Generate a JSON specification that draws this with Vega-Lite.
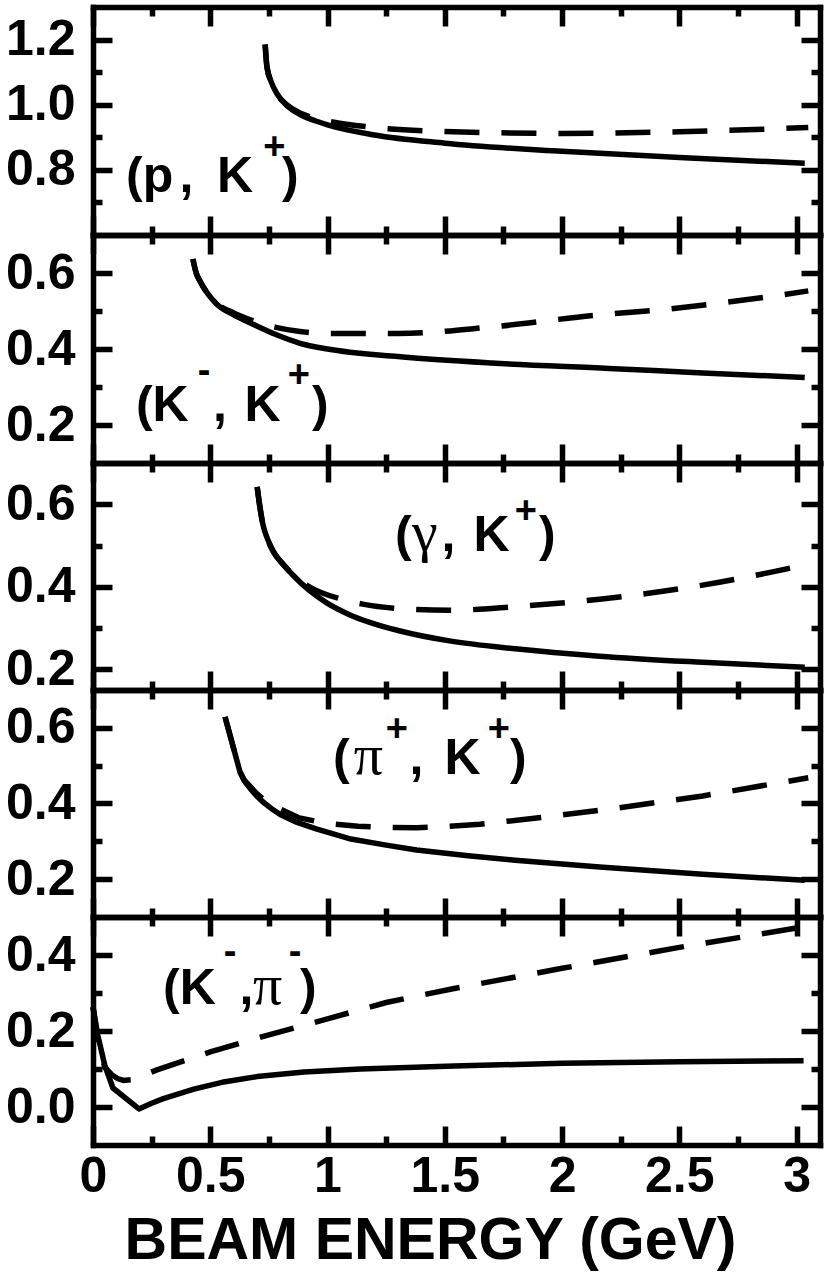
{
  "$schema": "https://vega.github.io/schema/vega-lite/v6.json",
  "background": "white",
  "padding": {"left": 5, "top": 4, "right": 5, "bottom": 2},
  "spacing": 0,
  "bounds": "flush",
  "config": {
    "view": {"stroke": null},
    "axis": {
      "grid": false,
      "domainColor": "black",
      "domainWidth": 5.5,
      "domainCap": "square",
      "tickColor": "black",
      "tickWidth": 5.5,
      "labelFont": "Liberation Sans",
      "labelFontWeight": "bold",
      "labelFontSize": 50,
      "labelColor": "black",
      "labelFlush": false,
      "labelOverlap": false,
      "labelBound": false
    }
  },
  "datasets": {
    "curves": [
      {"p": 1, "s": "solid", "e": 0.734, "v": 1.185},
      {"p": 1, "s": "solid", "e": 0.742, "v": 1.115},
      {"p": 1, "s": "solid", "e": 0.76, "v": 1.07},
      {"p": 1, "s": "solid", "e": 0.785, "v": 1.033},
      {"p": 1, "s": "solid", "e": 0.83, "v": 0.995},
      {"p": 1, "s": "solid", "e": 0.883, "v": 0.97},
      {"p": 1, "s": "solid", "e": 0.95, "v": 0.95},
      {"p": 1, "s": "solid", "e": 1.0, "v": 0.938},
      {"p": 1, "s": "solid", "e": 1.2, "v": 0.907},
      {"p": 1, "s": "solid", "e": 1.5, "v": 0.882},
      {"p": 1, "s": "solid", "e": 2.0, "v": 0.857},
      {"p": 1, "s": "solid", "e": 2.5, "v": 0.838},
      {"p": 1, "s": "solid", "e": 3.035, "v": 0.82},
      {"p": 1, "s": "dashed", "e": 0.734, "v": 1.185},
      {"p": 1, "s": "dashed", "e": 0.742, "v": 1.115},
      {"p": 1, "s": "dashed", "e": 0.76, "v": 1.07},
      {"p": 1, "s": "dashed", "e": 0.785, "v": 1.033},
      {"p": 1, "s": "dashed", "e": 0.83, "v": 0.998},
      {"p": 1, "s": "dashed", "e": 0.883, "v": 0.975},
      {"p": 1, "s": "dashed", "e": 0.95, "v": 0.958},
      {"p": 1, "s": "dashed", "e": 1.0, "v": 0.95},
      {"p": 1, "s": "dashed", "e": 1.2, "v": 0.93},
      {"p": 1, "s": "dashed", "e": 1.5, "v": 0.918},
      {"p": 1, "s": "dashed", "e": 2.0, "v": 0.912},
      {"p": 1, "s": "dashed", "e": 2.5, "v": 0.917},
      {"p": 1, "s": "dashed", "e": 3.05, "v": 0.93},

      {"p": 2, "s": "solid", "e": 0.426, "v": 0.637},
      {"p": 2, "s": "solid", "e": 0.44, "v": 0.6},
      {"p": 2, "s": "solid", "e": 0.456, "v": 0.579},
      {"p": 2, "s": "solid", "e": 0.49, "v": 0.545},
      {"p": 2, "s": "solid", "e": 0.528, "v": 0.518},
      {"p": 2, "s": "solid", "e": 0.6, "v": 0.49},
      {"p": 2, "s": "solid", "e": 0.68, "v": 0.466},
      {"p": 2, "s": "solid", "e": 0.78, "v": 0.438},
      {"p": 2, "s": "solid", "e": 0.883, "v": 0.415},
      {"p": 2, "s": "solid", "e": 1.0, "v": 0.4},
      {"p": 2, "s": "solid", "e": 1.3, "v": 0.38},
      {"p": 2, "s": "solid", "e": 1.7, "v": 0.363},
      {"p": 2, "s": "solid", "e": 2.2, "v": 0.349},
      {"p": 2, "s": "solid", "e": 2.6, "v": 0.337},
      {"p": 2, "s": "solid", "e": 3.035, "v": 0.325},
      {"p": 2, "s": "dashed", "e": 0.426, "v": 0.637},
      {"p": 2, "s": "dashed", "e": 0.44, "v": 0.6},
      {"p": 2, "s": "dashed", "e": 0.456, "v": 0.579},
      {"p": 2, "s": "dashed", "e": 0.49, "v": 0.545},
      {"p": 2, "s": "dashed", "e": 0.528, "v": 0.52},
      {"p": 2, "s": "dashed", "e": 0.6, "v": 0.495},
      {"p": 2, "s": "dashed", "e": 0.68, "v": 0.475},
      {"p": 2, "s": "dashed", "e": 0.78, "v": 0.457},
      {"p": 2, "s": "dashed", "e": 0.883, "v": 0.446},
      {"p": 2, "s": "dashed", "e": 1.0, "v": 0.441},
      {"p": 2, "s": "dashed", "e": 1.3, "v": 0.441},
      {"p": 2, "s": "dashed", "e": 1.7, "v": 0.458},
      {"p": 2, "s": "dashed", "e": 2.16, "v": 0.49},
      {"p": 2, "s": "dashed", "e": 2.42, "v": 0.503},
      {"p": 2, "s": "dashed", "e": 2.66, "v": 0.52},
      {"p": 2, "s": "dashed", "e": 2.91, "v": 0.54},
      {"p": 2, "s": "dashed", "e": 3.05, "v": 0.553},

      {"p": 3, "s": "solid", "e": 0.7, "v": 0.642},
      {"p": 3, "s": "solid", "e": 0.71, "v": 0.6},
      {"p": 3, "s": "solid", "e": 0.725, "v": 0.55},
      {"p": 3, "s": "solid", "e": 0.745, "v": 0.515},
      {"p": 3, "s": "solid", "e": 0.768, "v": 0.486},
      {"p": 3, "s": "solid", "e": 0.81, "v": 0.455},
      {"p": 3, "s": "solid", "e": 0.853, "v": 0.428},
      {"p": 3, "s": "solid", "e": 0.925, "v": 0.39},
      {"p": 3, "s": "solid", "e": 1.0, "v": 0.36},
      {"p": 3, "s": "solid", "e": 1.096, "v": 0.332},
      {"p": 3, "s": "solid", "e": 1.31, "v": 0.293},
      {"p": 3, "s": "solid", "e": 1.52, "v": 0.269},
      {"p": 3, "s": "solid", "e": 1.8, "v": 0.25},
      {"p": 3, "s": "solid", "e": 2.16, "v": 0.232},
      {"p": 3, "s": "solid", "e": 2.6, "v": 0.217},
      {"p": 3, "s": "solid", "e": 3.035, "v": 0.205},
      {"p": 3, "s": "dashed", "e": 0.7, "v": 0.642},
      {"p": 3, "s": "dashed", "e": 0.71, "v": 0.6},
      {"p": 3, "s": "dashed", "e": 0.725, "v": 0.55},
      {"p": 3, "s": "dashed", "e": 0.745, "v": 0.515},
      {"p": 3, "s": "dashed", "e": 0.768, "v": 0.486},
      {"p": 3, "s": "dashed", "e": 0.81, "v": 0.455},
      {"p": 3, "s": "dashed", "e": 0.853, "v": 0.43},
      {"p": 3, "s": "dashed", "e": 0.917, "v": 0.402},
      {"p": 3, "s": "dashed", "e": 1.06, "v": 0.37},
      {"p": 3, "s": "dashed", "e": 1.15, "v": 0.358},
      {"p": 3, "s": "dashed", "e": 1.31, "v": 0.347},
      {"p": 3, "s": "dashed", "e": 1.52, "v": 0.343},
      {"p": 3, "s": "dashed", "e": 1.8, "v": 0.352},
      {"p": 3, "s": "dashed", "e": 2.16, "v": 0.37},
      {"p": 3, "s": "dashed", "e": 2.5, "v": 0.395},
      {"p": 3, "s": "dashed", "e": 2.8, "v": 0.425},
      {"p": 3, "s": "dashed", "e": 3.05, "v": 0.455},

      {"p": 4, "s": "solid", "e": 0.563, "v": 0.629},
      {"p": 4, "s": "solid", "e": 0.627, "v": 0.483},
      {"p": 4, "s": "solid", "e": 0.645, "v": 0.46},
      {"p": 4, "s": "solid", "e": 0.67, "v": 0.44},
      {"p": 4, "s": "solid", "e": 0.695, "v": 0.422},
      {"p": 4, "s": "solid", "e": 0.725, "v": 0.404},
      {"p": 4, "s": "solid", "e": 0.76, "v": 0.387},
      {"p": 4, "s": "solid", "e": 0.8, "v": 0.37},
      {"p": 4, "s": "solid", "e": 0.87, "v": 0.35},
      {"p": 4, "s": "solid", "e": 0.955, "v": 0.332},
      {"p": 4, "s": "solid", "e": 1.1, "v": 0.306},
      {"p": 4, "s": "solid", "e": 1.25, "v": 0.29},
      {"p": 4, "s": "solid", "e": 1.38, "v": 0.277},
      {"p": 4, "s": "solid", "e": 1.6, "v": 0.262},
      {"p": 4, "s": "solid", "e": 1.8, "v": 0.25},
      {"p": 4, "s": "solid", "e": 2.16, "v": 0.232},
      {"p": 4, "s": "solid", "e": 2.6, "v": 0.213},
      {"p": 4, "s": "solid", "e": 3.035, "v": 0.197},
      {"p": 4, "s": "dashed", "e": 0.563, "v": 0.629},
      {"p": 4, "s": "dashed", "e": 0.627, "v": 0.483},
      {"p": 4, "s": "dashed", "e": 0.645, "v": 0.462},
      {"p": 4, "s": "dashed", "e": 0.67, "v": 0.445},
      {"p": 4, "s": "dashed", "e": 0.695, "v": 0.428},
      {"p": 4, "s": "dashed", "e": 0.725, "v": 0.412},
      {"p": 4, "s": "dashed", "e": 0.76, "v": 0.398},
      {"p": 4, "s": "dashed", "e": 0.8, "v": 0.385},
      {"p": 4, "s": "dashed", "e": 0.88, "v": 0.362},
      {"p": 4, "s": "dashed", "e": 1.0, "v": 0.347},
      {"p": 4, "s": "dashed", "e": 1.13, "v": 0.34},
      {"p": 4, "s": "dashed", "e": 1.25, "v": 0.337},
      {"p": 4, "s": "dashed", "e": 1.38, "v": 0.336},
      {"p": 4, "s": "dashed", "e": 1.5, "v": 0.339},
      {"p": 4, "s": "dashed", "e": 1.65, "v": 0.345},
      {"p": 4, "s": "dashed", "e": 1.91, "v": 0.363},
      {"p": 4, "s": "dashed", "e": 2.2, "v": 0.385},
      {"p": 4, "s": "dashed", "e": 2.6, "v": 0.42},
      {"p": 4, "s": "dashed", "e": 3.05, "v": 0.468},

      {"p": 5, "s": "solid", "e": 0.0, "v": 0.263},
      {"p": 5, "s": "solid", "e": 0.02, "v": 0.19},
      {"p": 5, "s": "solid", "e": 0.05, "v": 0.11},
      {"p": 5, "s": "solid", "e": 0.085, "v": 0.05},
      {"p": 5, "s": "solid", "e": 0.196, "v": -0.005},
      {"p": 5, "s": "solid", "e": 0.25, "v": 0.01},
      {"p": 5, "s": "solid", "e": 0.3, "v": 0.022},
      {"p": 5, "s": "solid", "e": 0.43, "v": 0.047},
      {"p": 5, "s": "solid", "e": 0.55, "v": 0.065},
      {"p": 5, "s": "solid", "e": 0.7, "v": 0.08},
      {"p": 5, "s": "solid", "e": 0.9, "v": 0.092},
      {"p": 5, "s": "solid", "e": 1.14, "v": 0.1},
      {"p": 5, "s": "solid", "e": 1.54, "v": 0.108},
      {"p": 5, "s": "solid", "e": 2.0, "v": 0.115},
      {"p": 5, "s": "solid", "e": 2.5, "v": 0.119},
      {"p": 5, "s": "solid", "e": 3.03, "v": 0.122},
      {"p": 5, "s": "dashed", "e": 0.0, "v": 0.263},
      {"p": 5, "s": "dashed", "e": 0.02, "v": 0.18},
      {"p": 5, "s": "dashed", "e": 0.05, "v": 0.105},
      {"p": 5, "s": "dashed", "e": 0.08, "v": 0.085},
      {"p": 5, "s": "dashed", "e": 0.105, "v": 0.075},
      {"p": 5, "s": "dashed", "e": 0.13, "v": 0.07},
      {"p": 5, "s": "dashed", "e": 0.165, "v": 0.072},
      {"p": 5, "s": "dashed", "e": 0.2, "v": 0.08},
      {"p": 5, "s": "dashed", "e": 0.27, "v": 0.097},
      {"p": 5, "s": "dashed", "e": 0.5, "v": 0.145},
      {"p": 5, "s": "dashed", "e": 0.75, "v": 0.19},
      {"p": 5, "s": "dashed", "e": 1.0, "v": 0.232},
      {"p": 5, "s": "dashed", "e": 1.25, "v": 0.275},
      {"p": 5, "s": "dashed", "e": 1.54, "v": 0.312},
      {"p": 5, "s": "dashed", "e": 2.0, "v": 0.365},
      {"p": 5, "s": "dashed", "e": 2.5, "v": 0.42},
      {"p": 5, "s": "dashed", "e": 3.05, "v": 0.476}
    ],
    "labels": [
      {"p": 1, "k": "main", "e": 0.141, "v": 0.732, "t": "(p"},
      {"p": 1, "k": "main", "e": 0.369, "v": 0.732, "t": ","},
      {"p": 1, "k": "main", "e": 0.529, "v": 0.732, "t": "K"},
      {"p": 1, "k": "sup", "e": 0.726, "v": 0.832, "t": "+"},
      {"p": 1, "k": "main", "e": 0.806, "v": 0.732, "t": ")"},

      {"p": 2, "k": "main", "e": 0.183, "v": 0.2105, "t": "(K"},
      {"p": 2, "k": "sup", "e": 0.447, "v": 0.31, "t": "-"},
      {"p": 2, "k": "main", "e": 0.512, "v": 0.2105, "t": ","},
      {"p": 2, "k": "main", "e": 0.646, "v": 0.2105, "t": "K"},
      {"p": 2, "k": "sup", "e": 0.83, "v": 0.3, "t": "+"},
      {"p": 2, "k": "main", "e": 0.934, "v": 0.2105, "t": ")"},

      {"p": 3, "k": "main", "e": 1.288, "v": 0.487, "t": "("},
      {"p": 3, "k": "greek", "e": 1.36, "v": 0.487, "t": "γ"},
      {"p": 3, "k": "main", "e": 1.486, "v": 0.487, "t": ","},
      {"p": 3, "k": "main", "e": 1.623, "v": 0.487, "t": "K"},
      {"p": 3, "k": "sup", "e": 1.798, "v": 0.555, "t": "+"},
      {"p": 3, "k": "main", "e": 1.902, "v": 0.487, "t": ")"},

      {"p": 4, "k": "main", "e": 1.023, "v": 0.478, "t": "("},
      {"p": 4, "k": "greek", "e": 1.112, "v": 0.478, "t": "π"},
      {"p": 4, "k": "sup", "e": 1.248, "v": 0.566, "t": "+"},
      {"p": 4, "k": "main", "e": 1.35, "v": 0.478, "t": ","},
      {"p": 4, "k": "main", "e": 1.499, "v": 0.478, "t": "K"},
      {"p": 4, "k": "sup", "e": 1.683, "v": 0.566, "t": "+"},
      {"p": 4, "k": "main", "e": 1.778, "v": 0.478, "t": ")"},

      {"p": 5, "k": "main", "e": 0.299, "v": 0.271, "t": "(K"},
      {"p": 5, "k": "sup", "e": 0.558, "v": 0.376, "t": "-"},
      {"p": 5, "k": "main", "e": 0.625, "v": 0.271, "t": ","},
      {"p": 5, "k": "greek", "e": 0.682, "v": 0.271, "t": "π"},
      {"p": 5, "k": "sup", "e": 0.835, "v": 0.376, "t": "-"},
      {"p": 5, "k": "main", "e": 0.883, "v": 0.271, "t": ")"}
    ]
  },
  "vconcat": [
    {
      "width": 727, "height": 228,
      "resolve": {"axis": {"x": "independent", "y": "independent"}},
      "layer": [
        {
          "data": {"name": "curves"},
          "transform": [{"filter": "datum.p == 1 && datum.s == 'solid'"}],
          "mark": {"type": "line", "color": "black", "strokeWidth": 5.5, "strokeJoin": "round", "interpolate": "monotone"},
          "encoding": {
            "x": {"field": "e", "type": "quantitative", "scale": {"domain": [0, 3.1], "nice": false, "zero": false},
              "axis": {"orient": "bottom", "values": [0, 0.25, 0.5, 0.75, 1, 1.25, 1.5, 1.75, 2, 2.25, 2.5, 2.75, 3], "labels": false, "title": null,
                "tickSize": {"condition": {"test": "datum.value % 0.5 === 0", "value": -19}, "value": -9}}},
            "y": {"field": "v", "type": "quantitative", "scale": {"domain": [0.6, 1.3], "nice": false, "zero": false},
              "axis": {"orient": "left", "values": [0.7, 0.8, 0.9, 1.0, 1.1, 1.2], "format": ".1f", "labelExpr": "round(datum.value*10) % 2 === 0 ? datum.label : ''", "labelPadding": 37, "title": null,
                "tickSize": {"condition": {"test": "round(datum.value*10) % 2 === 0", "value": -19}, "value": -9}}}
          }
        },
        {
          "data": {"name": "curves"},
          "transform": [{"filter": "datum.p == 1 && datum.s == 'dashed'"}],
          "mark": {"type": "line", "color": "black", "strokeWidth": 5.5, "strokeDash": [35, 22], "interpolate": "monotone"},
          "encoding": {
            "x": {"field": "e", "type": "quantitative",
              "axis": {"orient": "top", "values": [0, 0.25, 0.5, 0.75, 1, 1.25, 1.5, 1.75, 2, 2.25, 2.5, 2.75, 3], "labels": false, "title": null,
                "tickSize": {"condition": {"test": "datum.value % 0.5 === 0", "value": -19}, "value": -9}}},
            "y": {"field": "v", "type": "quantitative",
              "axis": {"orient": "right", "values": [0.7, 0.8, 0.9, 1.0, 1.1, 1.2], "labels": false, "title": null,
                "tickSize": {"condition": {"test": "round(datum.value*10) % 2 === 0", "value": -19}, "value": -9}}}
          }
        },
        {
          "data": {"name": "labels"},
          "transform": [{"filter": "datum.p == 1 && datum.k == 'main'"}],
          "mark": {"type": "text", "font": "Liberation Sans", "fontWeight": "bold", "fontSize": 50, "align": "left", "baseline": "alphabetic", "color": "black"},
          "encoding": {"x": {"field": "e", "type": "quantitative", "axis": null}, "y": {"field": "v", "type": "quantitative", "axis": null}, "text": {"field": "t"}}
        },
        {
          "data": {"name": "labels"},
          "transform": [{"filter": "datum.p == 1 && datum.k == 'sup'"}],
          "mark": {"type": "text", "font": "Liberation Sans", "fontWeight": "bold", "fontSize": 38, "align": "left", "baseline": "alphabetic", "color": "black"},
          "encoding": {"x": {"field": "e", "type": "quantitative", "axis": null}, "y": {"field": "v", "type": "quantitative", "axis": null}, "text": {"field": "t"}}
        }
      ]
    },
    {
      "width": 727, "height": 228,
      "resolve": {"axis": {"x": "independent", "y": "independent"}},
      "layer": [
        {
          "data": {"name": "curves"},
          "transform": [{"filter": "datum.p == 2 && datum.s == 'solid'"}],
          "mark": {"type": "line", "color": "black", "strokeWidth": 5.5, "strokeJoin": "round", "interpolate": "monotone"},
          "encoding": {
            "x": {"field": "e", "type": "quantitative", "scale": {"domain": [0, 3.1], "nice": false, "zero": false},
              "axis": {"orient": "bottom", "values": [0, 0.25, 0.5, 0.75, 1, 1.25, 1.5, 1.75, 2, 2.25, 2.5, 2.75, 3], "labels": false, "title": null,
                "tickSize": {"condition": {"test": "datum.value % 0.5 === 0", "value": -19}, "value": -9}}},
            "y": {"field": "v", "type": "quantitative", "scale": {"domain": [0.1, 0.7], "nice": false, "zero": false},
              "axis": {"orient": "left", "values": [0.2, 0.3, 0.4, 0.5, 0.6], "format": ".1f", "labelExpr": "round(datum.value*10) % 2 === 0 ? datum.label : ''", "labelPadding": 37, "title": null,
                "tickSize": {"condition": {"test": "round(datum.value*10) % 2 === 0", "value": -19}, "value": -9}}}
          }
        },
        {
          "data": {"name": "curves"},
          "transform": [{"filter": "datum.p == 2 && datum.s == 'dashed'"}],
          "mark": {"type": "line", "color": "black", "strokeWidth": 5.5, "strokeDash": [35, 22], "interpolate": "monotone"},
          "encoding": {
            "x": {"field": "e", "type": "quantitative",
              "axis": {"orient": "top", "values": [0, 0.25, 0.5, 0.75, 1, 1.25, 1.5, 1.75, 2, 2.25, 2.5, 2.75, 3], "labels": false, "title": null,
                "tickSize": {"condition": {"test": "datum.value % 0.5 === 0", "value": -19}, "value": -9}}},
            "y": {"field": "v", "type": "quantitative",
              "axis": {"orient": "right", "values": [0.2, 0.3, 0.4, 0.5, 0.6], "labels": false, "title": null,
                "tickSize": {"condition": {"test": "round(datum.value*10) % 2 === 0", "value": -19}, "value": -9}}}
          }
        },
        {
          "data": {"name": "labels"},
          "transform": [{"filter": "datum.p == 2 && datum.k == 'main'"}],
          "mark": {"type": "text", "font": "Liberation Sans", "fontWeight": "bold", "fontSize": 50, "align": "left", "baseline": "alphabetic", "color": "black"},
          "encoding": {"x": {"field": "e", "type": "quantitative", "axis": null}, "y": {"field": "v", "type": "quantitative", "axis": null}, "text": {"field": "t"}}
        },
        {
          "data": {"name": "labels"},
          "transform": [{"filter": "datum.p == 2 && datum.k == 'sup'"}],
          "mark": {"type": "text", "font": "Liberation Sans", "fontWeight": "bold", "fontSize": 38, "align": "left", "baseline": "alphabetic", "color": "black"},
          "encoding": {"x": {"field": "e", "type": "quantitative", "axis": null}, "y": {"field": "v", "type": "quantitative", "axis": null}, "text": {"field": "t"}}
        }
      ]
    },
    {
      "width": 727, "height": 227,
      "resolve": {"axis": {"x": "independent", "y": "independent"}},
      "layer": [
        {
          "data": {"name": "curves"},
          "transform": [{"filter": "datum.p == 3 && datum.s == 'solid'"}],
          "mark": {"type": "line", "color": "black", "strokeWidth": 5.5, "strokeJoin": "round", "interpolate": "monotone"},
          "encoding": {
            "x": {"field": "e", "type": "quantitative", "scale": {"domain": [0, 3.1], "nice": false, "zero": false},
              "axis": {"orient": "bottom", "values": [0, 0.25, 0.5, 0.75, 1, 1.25, 1.5, 1.75, 2, 2.25, 2.5, 2.75, 3], "labels": false, "title": null,
                "tickSize": {"condition": {"test": "datum.value % 0.5 === 0", "value": -19}, "value": -9}}},
            "y": {"field": "v", "type": "quantitative", "scale": {"domain": [0.15, 0.7], "nice": false, "zero": false},
              "axis": {"orient": "left", "values": [0.2, 0.3, 0.4, 0.5, 0.6], "format": ".1f", "labelExpr": "round(datum.value*10) % 2 === 0 ? datum.label : ''", "labelPadding": 37, "title": null,
                "tickSize": {"condition": {"test": "round(datum.value*10) % 2 === 0", "value": -19}, "value": -9}}}
          }
        },
        {
          "data": {"name": "curves"},
          "transform": [{"filter": "datum.p == 3 && datum.s == 'dashed'"}],
          "mark": {"type": "line", "color": "black", "strokeWidth": 5.5, "strokeDash": [35, 22], "interpolate": "monotone"},
          "encoding": {
            "x": {"field": "e", "type": "quantitative",
              "axis": {"orient": "top", "values": [0, 0.25, 0.5, 0.75, 1, 1.25, 1.5, 1.75, 2, 2.25, 2.5, 2.75, 3], "labels": false, "title": null,
                "tickSize": {"condition": {"test": "datum.value % 0.5 === 0", "value": -19}, "value": -9}}},
            "y": {"field": "v", "type": "quantitative",
              "axis": {"orient": "right", "values": [0.2, 0.3, 0.4, 0.5, 0.6], "labels": false, "title": null,
                "tickSize": {"condition": {"test": "round(datum.value*10) % 2 === 0", "value": -19}, "value": -9}}}
          }
        },
        {
          "data": {"name": "labels"},
          "transform": [{"filter": "datum.p == 3 && datum.k == 'main'"}],
          "mark": {"type": "text", "font": "Liberation Sans", "fontWeight": "bold", "fontSize": 50, "align": "left", "baseline": "alphabetic", "color": "black"},
          "encoding": {"x": {"field": "e", "type": "quantitative", "axis": null}, "y": {"field": "v", "type": "quantitative", "axis": null}, "text": {"field": "t"}}
        },
        {
          "data": {"name": "labels"},
          "transform": [{"filter": "datum.p == 3 && datum.k == 'sup'"}],
          "mark": {"type": "text", "font": "Liberation Sans", "fontWeight": "bold", "fontSize": 38, "align": "left", "baseline": "alphabetic", "color": "black"},
          "encoding": {"x": {"field": "e", "type": "quantitative", "axis": null}, "y": {"field": "v", "type": "quantitative", "axis": null}, "text": {"field": "t"}}
        },
        {
          "data": {"name": "labels"},
          "transform": [{"filter": "datum.p == 3 && datum.k == 'greek'"}],
          "mark": {"type": "text", "font": "Liberation Serif", "fontSize": 58, "align": "left", "baseline": "alphabetic", "color": "black"},
          "encoding": {"x": {"field": "e", "type": "quantitative", "axis": null}, "y": {"field": "v", "type": "quantitative", "axis": null}, "text": {"field": "t"}}
        }
      ]
    },
    {
      "width": 727, "height": 227,
      "resolve": {"axis": {"x": "independent", "y": "independent"}},
      "layer": [
        {
          "data": {"name": "curves"},
          "transform": [{"filter": "datum.p == 4 && datum.s == 'solid'"}],
          "mark": {"type": "line", "color": "black", "strokeWidth": 5.5, "strokeJoin": "round"},
          "encoding": {
            "x": {"field": "e", "type": "quantitative", "scale": {"domain": [0, 3.1], "nice": false, "zero": false},
              "axis": {"orient": "bottom", "values": [0, 0.25, 0.5, 0.75, 1, 1.25, 1.5, 1.75, 2, 2.25, 2.5, 2.75, 3], "labels": false, "title": null,
                "tickSize": {"condition": {"test": "datum.value % 0.5 === 0", "value": -19}, "value": -9}}},
            "y": {"field": "v", "type": "quantitative", "scale": {"domain": [0.1, 0.7], "nice": false, "zero": false},
              "axis": {"orient": "left", "values": [0.2, 0.3, 0.4, 0.5, 0.6], "format": ".1f", "labelExpr": "round(datum.value*10) % 2 === 0 ? datum.label : ''", "labelPadding": 37, "title": null,
                "tickSize": {"condition": {"test": "round(datum.value*10) % 2 === 0", "value": -19}, "value": -9}}}
          }
        },
        {
          "data": {"name": "curves"},
          "transform": [{"filter": "datum.p == 4 && datum.s == 'dashed'"}],
          "mark": {"type": "line", "color": "black", "strokeWidth": 5.5, "strokeDash": [35, 22]},
          "encoding": {
            "x": {"field": "e", "type": "quantitative",
              "axis": {"orient": "top", "values": [0, 0.25, 0.5, 0.75, 1, 1.25, 1.5, 1.75, 2, 2.25, 2.5, 2.75, 3], "labels": false, "title": null,
                "tickSize": {"condition": {"test": "datum.value % 0.5 === 0", "value": -19}, "value": -9}}},
            "y": {"field": "v", "type": "quantitative",
              "axis": {"orient": "right", "values": [0.2, 0.3, 0.4, 0.5, 0.6], "labels": false, "title": null,
                "tickSize": {"condition": {"test": "round(datum.value*10) % 2 === 0", "value": -19}, "value": -9}}}
          }
        },
        {
          "data": {"name": "labels"},
          "transform": [{"filter": "datum.p == 4 && datum.k == 'main'"}],
          "mark": {"type": "text", "font": "Liberation Sans", "fontWeight": "bold", "fontSize": 50, "align": "left", "baseline": "alphabetic", "color": "black"},
          "encoding": {"x": {"field": "e", "type": "quantitative", "axis": null}, "y": {"field": "v", "type": "quantitative", "axis": null}, "text": {"field": "t"}}
        },
        {
          "data": {"name": "labels"},
          "transform": [{"filter": "datum.p == 4 && datum.k == 'sup'"}],
          "mark": {"type": "text", "font": "Liberation Sans", "fontWeight": "bold", "fontSize": 38, "align": "left", "baseline": "alphabetic", "color": "black"},
          "encoding": {"x": {"field": "e", "type": "quantitative", "axis": null}, "y": {"field": "v", "type": "quantitative", "axis": null}, "text": {"field": "t"}}
        },
        {
          "data": {"name": "labels"},
          "transform": [{"filter": "datum.p == 4 && datum.k == 'greek'"}],
          "mark": {"type": "text", "font": "Liberation Serif", "fontSize": 58, "align": "left", "baseline": "alphabetic", "color": "black"},
          "encoding": {"x": {"field": "e", "type": "quantitative", "axis": null}, "y": {"field": "v", "type": "quantitative", "axis": null}, "text": {"field": "t"}}
        }
      ]
    },
    {
      "width": 727, "height": 228,
      "resolve": {"axis": {"x": "independent", "y": "independent"}},
      "layer": [
        {
          "data": {"name": "curves"},
          "transform": [{"filter": "datum.p == 5 && datum.s == 'solid'"}],
          "mark": {"type": "line", "color": "black", "strokeWidth": 5.5, "strokeJoin": "round"},
          "encoding": {
            "x": {"field": "e", "type": "quantitative", "scale": {"domain": [0, 3.1], "nice": false, "zero": false},
              "axis": {"orient": "bottom", "values": [0, 0.25, 0.5, 0.75, 1, 1.25, 1.5, 1.75, 2, 2.25, 2.5, 2.75, 3], "format": "~g",
                "labelExpr": "datum.value % 0.5 === 0 ? datum.label : ''", "labelPadding": 25,
                "title": "BEAM ENERGY (GeV)", "titleFont": "Liberation Sans", "titleFontWeight": "bold", "titleFontSize": 59, "titleColor": "black",
                "titleX": 337, "titleY": 113, "titleAlign": "center", "titleBaseline": "alphabetic",
                "tickSize": {"condition": {"test": "datum.value % 0.5 === 0", "value": -19}, "value": -9}}},
            "y": {"field": "v", "type": "quantitative", "scale": {"domain": [-0.1, 0.5], "nice": false, "zero": false},
              "axis": {"orient": "left", "values": [0.0, 0.1, 0.2, 0.3, 0.4], "format": ".1f", "labelExpr": "round(datum.value*10) % 2 === 0 ? datum.label : ''", "labelPadding": 37, "title": null,
                "tickSize": {"condition": {"test": "round(datum.value*10) % 2 === 0", "value": -19}, "value": -9}}}
          }
        },
        {
          "data": {"name": "curves"},
          "transform": [{"filter": "datum.p == 5 && datum.s == 'dashed'"}],
          "mark": {"type": "line", "color": "black", "strokeWidth": 5.5, "strokeDash": [35, 22]},
          "encoding": {
            "x": {"field": "e", "type": "quantitative",
              "axis": {"orient": "top", "values": [0, 0.25, 0.5, 0.75, 1, 1.25, 1.5, 1.75, 2, 2.25, 2.5, 2.75, 3], "labels": false, "title": null,
                "tickSize": {"condition": {"test": "datum.value % 0.5 === 0", "value": -19}, "value": -9}}},
            "y": {"field": "v", "type": "quantitative",
              "axis": {"orient": "right", "values": [0.0, 0.1, 0.2, 0.3, 0.4], "labels": false, "title": null,
                "tickSize": {"condition": {"test": "round(datum.value*10) % 2 === 0", "value": -19}, "value": -9}}}
          }
        },
        {
          "data": {"name": "labels"},
          "transform": [{"filter": "datum.p == 5 && datum.k == 'main'"}],
          "mark": {"type": "text", "font": "Liberation Sans", "fontWeight": "bold", "fontSize": 50, "align": "left", "baseline": "alphabetic", "color": "black"},
          "encoding": {"x": {"field": "e", "type": "quantitative", "axis": null}, "y": {"field": "v", "type": "quantitative", "axis": null}, "text": {"field": "t"}}
        },
        {
          "data": {"name": "labels"},
          "transform": [{"filter": "datum.p == 5 && datum.k == 'sup'"}],
          "mark": {"type": "text", "font": "Liberation Sans", "fontWeight": "bold", "fontSize": 38, "align": "left", "baseline": "alphabetic", "color": "black"},
          "encoding": {"x": {"field": "e", "type": "quantitative", "axis": null}, "y": {"field": "v", "type": "quantitative", "axis": null}, "text": {"field": "t"}}
        },
        {
          "data": {"name": "labels"},
          "transform": [{"filter": "datum.p == 5 && datum.k == 'greek'"}],
          "mark": {"type": "text", "font": "Liberation Serif", "fontSize": 58, "align": "left", "baseline": "alphabetic", "color": "black"},
          "encoding": {"x": {"field": "e", "type": "quantitative", "axis": null}, "y": {"field": "v", "type": "quantitative", "axis": null}, "text": {"field": "t"}}
        }
      ]
    }
  ]
}
